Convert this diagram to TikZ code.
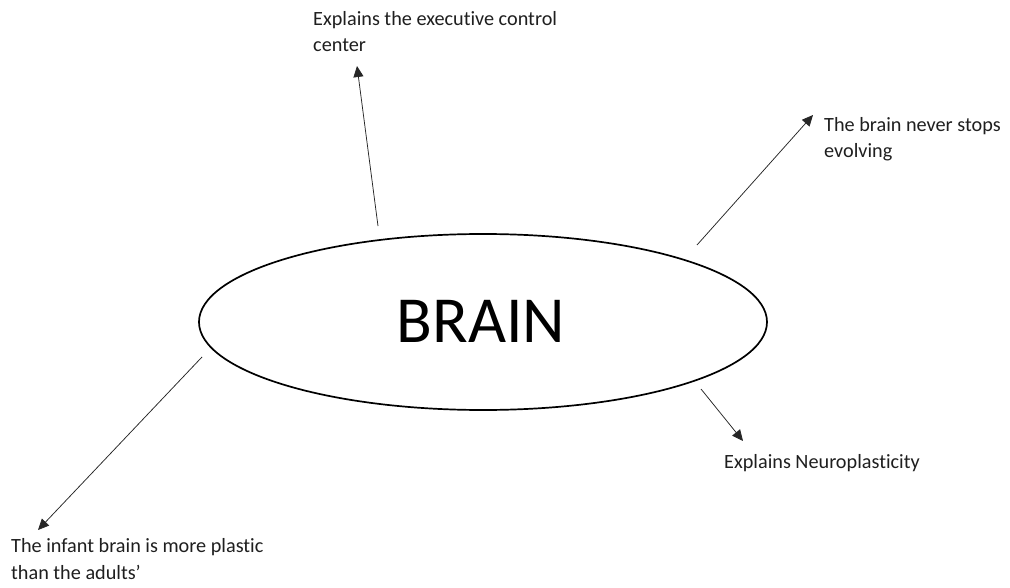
\documentclass[tikz,border=0pt]{standalone}
\usepackage{fontspec}
\setmainfont{Carlito}[Ligatures=NoCommon]
\usetikzlibrary{arrows.meta,shapes.geometric}
\begin{document}
\begin{tikzpicture}[x=1bp,y=-1bp,
  note/.style={anchor=base west,align=left,inner sep=0pt,font=\fontsize{20.3}{27}\selectfont,text=black!88},
  link/.style={-{Triangle[length=11bp,width=10bp]},line width=0.75bp,draw=black!85}]
  \useasboundingbox[fill=white] (0,0) rectangle (1010,588);
  % central topic
  \node[ellipse,draw,line width=1.7bp,minimum width=568bp,minimum height=176bp,inner sep=0pt]
    (brain) at (483,322) {};
  \node[font=\fontsize{66}{70}\selectfont] (title) at (481,321) {BRAIN};
  % surrounding notes (anchored at the baseline of their last line)
  \node[note] (exec) at (313,52) {Explains the executive control\\center};
  \node[note] (evolve) at (824,158) {The brain never stops\\evolving};
  \node[note] (neuro) at (724,468) {Explains Neuroplasticity};
  \node[note] (infant) at (11,579) {The infant brain is more plastic\\than the adults’};
  % arrow ends
  \coordinate (s1) at (378,226); \coordinate (e1) at (357,66);
  \coordinate (s2) at (697,245); \coordinate (e2) at (813,115);
  \coordinate (s3) at (701,389); \coordinate (e3) at (743,441);
  \coordinate (s4) at (202,357); \coordinate (e4) at (38,530);
  \draw[link] (s1) -- (e1);
  \draw[link] (s2) -- (e2);
  \draw[link] (s3) -- (e3);
  \draw[link] (s4) -- (e4);
\end{tikzpicture}
\end{document}
